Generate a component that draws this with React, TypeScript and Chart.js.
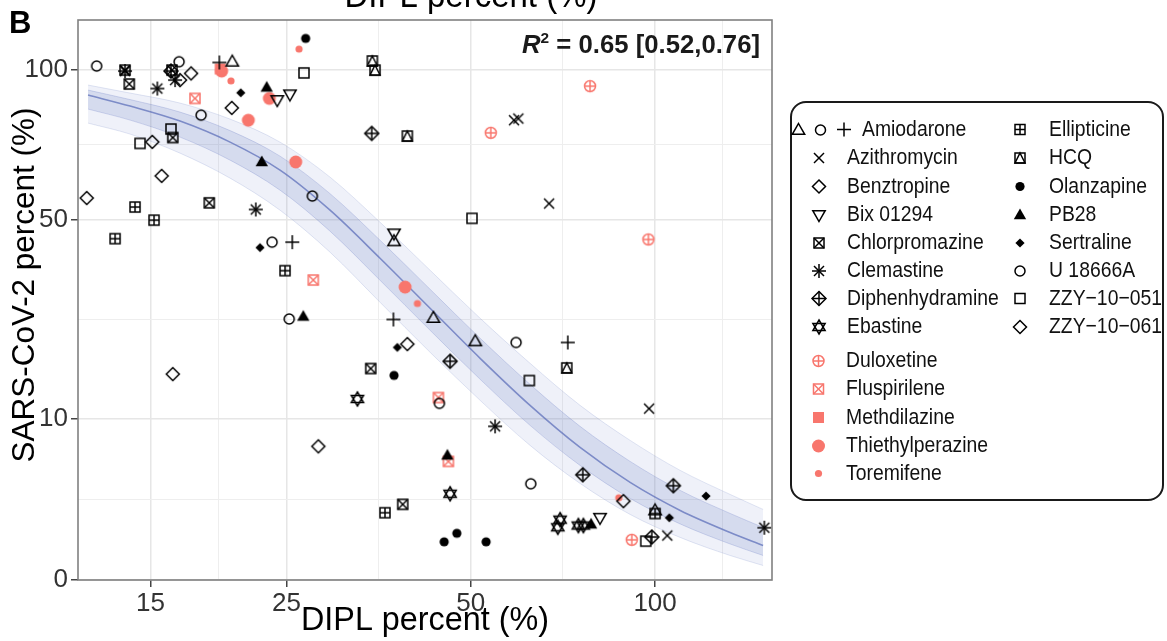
import React, { useEffect, useRef } from 'react';
import { Chart, registerables, LinearScale } from 'chart.js';

Chart.register(...registerables);

// ---- sqrt-transformed linear scale (ggplot scale_y_sqrt look) ----
class SqrtScale extends LinearScale {
  static id = 'sqrt';
  static defaults = {};
  getPixelForValue(value: any) {
    if (value === null || value === undefined || isNaN(value)) return NaN;
    const a = Math.sqrt(Math.max((this as any).min, 0));
    const b = Math.sqrt(Math.max((this as any).max, 0));
    return (this as any).getPixelForDecimal((Math.sqrt(Math.max(+value, 0)) - a) / (b - a));
  }
  getValueForPixel(pixel: number) {
    const a = Math.sqrt(Math.max((this as any).min, 0));
    const b = Math.sqrt(Math.max((this as any).max, 0));
    const s = a + (this as any).getDecimalForPixel(pixel) * (b - a);
    return s * s;
  }
}
Chart.register(SqrtScale as any);

// ---------------- DATA ----------------
const X_MIN = 11.42;
const X_MAX = 155.2;
const Y_MIN = 0;
const Y_MAX = 120.6;
const X_MAJOR = [15, 25, 50, 100];
const X_MINOR = [19.36, 35.36, 70.71, 129];
const Y_MAJOR = [0, 10, 50, 100];
const Y_MINOR = [2.5, 26.18, 72.86];

const AMIODARONE_TRIANGLE = [[20.4, 103.3], [37.47, 44.1], [43.45, 26.4], [50.86, 21.9], [100.0, 1.86]];
const AMIODARONE_CIRCLE = [[16.7, 103.3], [23.69, 43.9], [59.29, 21.7], [44.44, 12.0]];
const AMIODARONE_PLUS = [[19.43, 103.0], [25.56, 43.9], [37.38, 26.1], [72.01, 21.7]];
const AZITHROMYCIN = [[58.84, 81.3], [59.8, 81.9], [67.13, 54.5], [97.77, 11.3], [104.7, 0.76]];
const BENZTROPINE = [[17.47, 98.7], [20.36, 85.7], [15.1, 73.8], [15.64, 62.8], [39.4, 21.4], [88.77, 2.39]];
const BIX_01294 = [[24.16, 88.6], [25.34, 90.7], [37.47, 46.2], [81.3, 1.49]];
const CHLORPROMAZINE = [[13.85, 94.6], [16.31, 75.3], [18.71, 54.7], [34.33, 17.2], [38.72, 2.2], [13.63, 100.0], [16.26, 100.0]];
const CLEMASTINE = [[15.39, 92.9], [16.45, 96.1], [22.28, 52.8], [54.79, 9.08], [150.8, 1.05], [13.63, 99.6]];
const DIPHENHYDRAMINE = [[34.46, 76.7], [46.27, 18.4], [76.19, 4.26], [107.1, 3.42], [98.76, 0.71], [16.2, 99.6]];
const EBASTINE = [[32.65, 12.6], [46.27, 2.86], [69.96, 1.4], [69.36, 1.07], [74.93, 1.14], [76.36, 1.14]];
const ELLIPTICINE = [[14.15, 53.5], [15.2, 49.8], [13.13, 44.8], [24.87, 36.8], [36.22, 1.74], [100.0, 1.7]];
const HCQ = [[34.54, 103.6], [34.89, 100.0], [39.4, 75.8], [71.74, 17.3]];
const OLANZAPINE = [[26.88, 112.8], [37.47, 16.1], [45.24, 0.56], [47.45, 0.84], [52.97, 0.56]];
const PB28 = [[23.22, 93.3], [22.79, 67.2], [26.64, 26.7], [45.8, 5.97], [78.61, 1.19]];
const SERTRALINE = [[21.06, 91.3], [22.64, 42.5], [37.94, 20.8], [105.5, 1.49], [121.1, 2.71]];
const U_18666A = [[12.25, 101.6], [18.14, 83.1], [27.56, 56.7], [25.27, 26.2], [62.66, 3.56]];
const ZZY_10_051 = [[26.71, 98.9], [16.2, 78.2], [14.42, 73.3], [50.23, 50.3], [62.33, 15.3], [96.56, 0.58]];
const ZZY_10_061 = [[11.8, 56.1], [16.31, 16.3], [28.19, 6.87], [16.76, 96.1]];
const DULOXETINE = [[78.3, 93.8], [53.91, 76.9], [97.52, 44.6], [91.6, 0.62]];
const FLUSPIRILENE = [[17.73, 89.2], [27.66, 34.6], [44.28, 12.8], [45.97, 5.41]];
const METHDILAZINE = [[19.5, 100.4]];
const THIETHYLPERAZINE = [[19.6, 99.6], [23.45, 89.2], [21.67, 81.3], [25.89, 67.2], [39.06, 33.0]];
const TOREMIFENE = [[20.3, 95.8], [26.22, 108.4], [40.91, 29.4], [87.24, 2.6]];

// fitted dose-response curve and its bootstrap envelope
const CURVE_X = [11.86, 13.89, 16.76, 20.23, 24.41, 29.46, 35.55, 42.91, 51.8, 62.49, 75.42, 91.04, 109.9, 132.6, 150.1];
const CURVE_MID = [90.43, 86.37, 80.98, 73.73, 64.6, 52.59, 39.82, 28.4, 18.9, 11.73, 6.763, 3.662, 1.861, 0.869, 0.458];
const CURVE_UPPER = [94.2, 91.18, 87.47, 81.69, 73.73, 62.41, 49.23, 36.9, 26.34, 18.06, 11.73, 7.497, 4.619, 2.816, 1.915];
const CURVE_LOWER = [80.28, 76.46, 70.07, 62.1, 52.59, 41.32, 29.66, 19.94, 12.41, 6.969, 3.587, 1.653, 0.696, 0.231, 0.081];
const CURVE_UPPER_INNER = [92.3, 88.76, 84.19, 77.66, 69.09, 57.4, 44.4, 32.51, 22.47, 14.72, 9.077, 5.409, 3.086, 1.704, 1.062];
const CURVE_LOWER_INNER = [85.28, 81.34, 75.43, 67.79, 58.44, 46.79, 34.55, 23.98, 15.49, 9.195, 5.05, 2.559, 1.208, 0.499, 0.231];

const BLACK = '#000000';
const RED = '#F8766D';

const SERIES = [
  { label: 'Amiodarone', data: AMIODARONE_TRIANGLE, shape: 'triangle', color: BLACK },
  { label: 'Amiodarone', data: AMIODARONE_CIRCLE, shape: 'circle', color: BLACK },
  { label: 'Amiodarone', data: AMIODARONE_PLUS, shape: 'plus', color: BLACK },
  { label: 'Azithromycin', data: AZITHROMYCIN, shape: 'cross', color: BLACK },
  { label: 'Benztropine', data: BENZTROPINE, shape: 'diamond', color: BLACK },
  { label: 'Bix 01294', data: BIX_01294, shape: 'triangleDown', color: BLACK },
  { label: 'Chlorpromazine', data: CHLORPROMAZINE, shape: 'squareX', color: BLACK },
  { label: 'Clemastine', data: CLEMASTINE, shape: 'asterisk', color: BLACK },
  { label: 'Diphenhydramine', data: DIPHENHYDRAMINE, shape: 'diamondPlus', color: BLACK },
  { label: 'Ebastine', data: EBASTINE, shape: 'star6', color: BLACK },
  { label: 'Ellipticine', data: ELLIPTICINE, shape: 'squarePlus', color: BLACK },
  { label: 'HCQ', data: HCQ, shape: 'squareTriangle', color: BLACK },
  { label: 'Olanzapine', data: OLANZAPINE, shape: 'dotM', color: BLACK },
  { label: 'PB28', data: PB28, shape: 'triangleFill', color: BLACK },
  { label: 'Sertraline', data: SERTRALINE, shape: 'diamondFill', color: BLACK },
  { label: 'U 18666A', data: U_18666A, shape: 'circle', color: BLACK },
  { label: 'ZZY\u221210\u2212051', data: ZZY_10_051, shape: 'square', color: BLACK },
  { label: 'ZZY\u221210\u2212061', data: ZZY_10_061, shape: 'diamond', color: BLACK },
  { label: 'Duloxetine', data: DULOXETINE, shape: 'circlePlus', color: RED },
  { label: 'Fluspirilene', data: FLUSPIRILENE, shape: 'squareX', color: RED },
  { label: 'Methdilazine', data: METHDILAZINE, shape: 'squareFill', color: RED },
  { label: 'Thiethylperazine', data: THIETHYLPERAZINE, shape: 'dotL', color: RED },
  { label: 'Toremifene', data: TOREMIFENE, shape: 'dotS', color: RED },
];

const LEGEND_LEFT = [
  { label: 'Amiodarone', shapes: ['triangle', 'circle', 'plus'], color: BLACK },
  { label: 'Azithromycin', shapes: ['cross'], color: BLACK },
  { label: 'Benztropine', shapes: ['diamond'], color: BLACK },
  { label: 'Bix 01294', shapes: ['triangleDown'], color: BLACK },
  { label: 'Chlorpromazine', shapes: ['squareX'], color: BLACK },
  { label: 'Clemastine', shapes: ['asterisk'], color: BLACK },
  { label: 'Diphenhydramine', shapes: ['diamondPlus'], color: BLACK },
  { label: 'Ebastine', shapes: ['star6'], color: BLACK },
];
const LEGEND_RED = [
  { label: 'Duloxetine', shapes: ['circlePlus'], color: RED },
  { label: 'Fluspirilene', shapes: ['squareX'], color: RED },
  { label: 'Methdilazine', shapes: ['squareFill'], color: RED },
  { label: 'Thiethylperazine', shapes: ['dotL'], color: RED },
  { label: 'Toremifene', shapes: ['dotS'], color: RED },
];
const LEGEND_RIGHT = [
  { label: 'Ellipticine', shapes: ['squarePlus'], color: BLACK },
  { label: 'HCQ', shapes: ['squareTriangle'], color: BLACK },
  { label: 'Olanzapine', shapes: ['dotM'], color: BLACK },
  { label: 'PB28', shapes: ['triangleFill'], color: BLACK },
  { label: 'Sertraline', shapes: ['diamondFill'], color: BLACK },
  { label: 'U 18666A', shapes: ['circle'], color: BLACK },
  { label: 'ZZY\u221210\u2212051', shapes: ['square'], color: BLACK },
  { label: 'ZZY\u221210\u2212061', shapes: ['diamond'], color: BLACK },
];

const FONT = "'Liberation Sans', Arial, Helvetica, sans-serif";

// ---------------- drawing helpers ----------------
function drawShape(g: CanvasRenderingContext2D, kind: string, color: string, cx: number, cy: number) {
  g.save();
  g.translate(cx, cy);
  g.strokeStyle = color;
  g.fillStyle = color;
  g.lineWidth = 1.5;
  g.lineJoin = 'miter';
  const seg = (x1: number, y1: number, x2: number, y2: number) => {
    g.beginPath(); g.moveTo(x1, y1); g.lineTo(x2, y2); g.stroke();
  };
  const poly = (pts: number[][], fill = false) => {
    g.beginPath();
    pts.forEach(([x, y], i) => (i ? g.lineTo(x, y) : g.moveTo(x, y)));
    g.closePath();
    if (fill) g.fill(); else g.stroke();
  };
  const circ = (r: number, fill = false) => {
    g.beginPath(); g.arc(0, 0, r, 0, Math.PI * 2);
    if (fill) g.fill(); else g.stroke();
  };
  switch (kind) {
    case 'circle': circ(5); break;
    case 'triangle': poly([[0, -6.5], [6.2, 4.3], [-6.2, 4.3]]); break;
    case 'triangleDown': poly([[0, 6.5], [6.2, -4.3], [-6.2, -4.3]]); break;
    case 'plus': seg(-7, 0, 7, 0); seg(0, -7, 0, 7); break;
    case 'cross': seg(-5, -5, 5, 5); seg(-5, 5, 5, -5); break;
    case 'diamond': poly([[0, -6.5], [6.5, 0], [0, 6.5], [-6.5, 0]]); break;
    case 'square': g.strokeRect(-5, -5, 10, 10); break;
    case 'squareX': g.strokeRect(-5, -5, 10, 10); seg(-5, -5, 5, 5); seg(-5, 5, 5, -5); break;
    case 'squarePlus': g.strokeRect(-5, -5, 10, 10); seg(-5, 0, 5, 0); seg(0, -5, 0, 5); break;
    case 'squareTriangle': g.strokeRect(-5, -5, 10, 10); poly([[0, -5], [5, 5], [-5, 5]]); break;
    case 'asterisk': seg(-7, 0, 7, 0); seg(0, -7, 0, 7); seg(-5, -5, 5, 5); seg(-5, 5, 5, -5); break;
    case 'diamondPlus': poly([[0, -7], [7, 0], [0, 7], [-7, 0]]); seg(-7, 0, 7, 0); seg(0, -7, 0, 7); break;
    case 'star6': poly([[0, -7], [6.1, 3.5], [-6.1, 3.5]]); poly([[0, 7], [6.1, -3.5], [-6.1, -3.5]]); break;
    case 'circlePlus': circ(5.5); seg(-5.5, 0, 5.5, 0); seg(0, -5.5, 0, 5.5); break;
    case 'dotL': circ(6.5, true); break;
    case 'dotM': circ(4.6, true); break;
    case 'dotS': circ(3.6, true); break;
    case 'triangleFill': poly([[0, -6.5], [6.2, 4.3], [-6.2, 4.3]], true); break;
    case 'diamondFill': poly([[0, -4.6], [4.6, 0], [0, 4.6], [-4.6, 0]], true); break;
    case 'squareFill': g.fillRect(-5.5, -5.5, 11, 11); break;
  }
  g.restore();
}

function drawText(
  ctx: CanvasRenderingContext2D, text: string, x: number, y: number, font: string,
  align: 'left' | 'center' | 'right', opts: { width?: number; sx?: number; color?: string; baseline?: CanvasTextBaseline } = {}
) {
  ctx.save();
  ctx.font = font;
  ctx.fillStyle = opts.color || '#000';
  ctx.textBaseline = opts.baseline || 'alphabetic';
  ctx.textAlign = 'left';
  const w = ctx.measureText(text).width;
  const sx = opts.width ? opts.width / w : (opts.sx ?? 1);
  const dw = w * sx;
  const left = align === 'center' ? x - dw / 2 : align === 'right' ? x - dw : x;
  ctx.translate(left, y);
  ctx.scale(sx, 1);
  ctx.fillText(text, 0, 0);
  ctx.restore();
}

const overlayPlugin = {
  id: 'overlay',
  afterDraw(chart: any) {
    const ctx: CanvasRenderingContext2D = chart.ctx;
    const a = chart.chartArea;
    ctx.save();
    // panel border
    ctx.strokeStyle = '#808080';
    ctx.lineWidth = 1.6;
    ctx.strokeRect(a.left, a.top, a.right - a.left, a.bottom - a.top);

    // panel letter
    drawText(ctx, 'B', 9, 33, `bold 31px ${FONT}`, 'left');
    // clipped title from the panel above
    drawText(ctx, 'DIPL percent (%)', 471, 7, `35px ${FONT}`, 'center', { width: 253 });
    // axis titles
    drawText(ctx, 'DIPL percent (%)', (a.left + a.right) / 2, 630, `34px ${FONT}`, 'center', { width: 248 });
    ctx.save();
    ctx.translate(34, 285);
    ctx.rotate(-Math.PI / 2);
    drawText(ctx, 'SARS-CoV-2 percent (%)', 0, 0, `31px ${FONT}`, 'center', { width: 355 });
    ctx.restore();

    // R^2 annotation
    {
      const fBig = `bold 25px ${FONT}`;
      const fIt = `italic bold 25px ${FONT}`;
      const fSup = `bold 15px ${FONT}`;
      const rest = ' = 0.65 [0.52,0.76]';
      ctx.font = fIt; const wR = ctx.measureText('R').width;
      ctx.font = fSup; const wS = ctx.measureText('2').width;
      ctx.font = fBig; const wT = ctx.measureText(rest).width;
      const total = wR + wS + wT;
      const right = 760, base = 53;
      const sx = 238 / total;
      ctx.save();
      ctx.translate(right - total * sx, base);
      ctx.scale(sx, 1);
      ctx.fillStyle = '#1a1a1a';
      ctx.textBaseline = 'alphabetic';
      ctx.textAlign = 'left';
      ctx.font = fIt; ctx.fillText('R', 0, 0);
      ctx.font = fSup; ctx.fillText('2', wR, -10);
      ctx.font = fBig; ctx.fillText(rest, wR + wS, 0);
      ctx.restore();
    }

    // legend box
    const bx = 791, by = 102, bw = 1163 - 791, bh = 500 - 102, r = 15;
    ctx.beginPath();
    ctx.moveTo(bx + r, by);
    ctx.lineTo(bx + bw - r, by);
    ctx.arcTo(bx + bw, by, bx + bw, by + r, r);
    ctx.lineTo(bx + bw, by + bh - r);
    ctx.arcTo(bx + bw, by + bh, bx + bw - r, by + bh, r);
    ctx.lineTo(bx + r, by + bh);
    ctx.arcTo(bx, by + bh, bx, by + bh - r, r);
    ctx.lineTo(bx, by + r);
    ctx.arcTo(bx, by, bx + r, by, r);
    ctx.closePath();
    ctx.fillStyle = '#ffffff';
    ctx.fill();
    ctx.strokeStyle = '#1a1a1a';
    ctx.lineWidth = 2;
    ctx.stroke();

    const lf = `22px ${FONT}`;
    const rowsBlack = [129.5, 158, 186.5, 215, 243, 271, 298.5, 327];
    const rowsRed = [361, 389, 417.5, 446, 473.5];
    LEGEND_LEFT.forEach((e, i) => {
      const y = rowsBlack[i];
      if (e.shapes.length === 3) {
        drawShape(ctx, e.shapes[0], e.color, 798.5, y + 0.5);
        drawShape(ctx, e.shapes[1], e.color, 820.5, y + 0.5);
        drawShape(ctx, e.shapes[2], e.color, 844, y);
        drawText(ctx, e.label, 862, y, lf, 'left', { sx: 0.88, baseline: 'middle', color: '#111' });
      } else {
        drawShape(ctx, e.shapes[0], e.color, 819, y);
        drawText(ctx, e.label, 847, y, lf, 'left', { sx: 0.88, baseline: 'middle', color: '#111' });
      }
    });
    LEGEND_RED.forEach((e, i) => {
      const y = rowsRed[i];
      drawShape(ctx, e.shapes[0], e.color, 818.5, y);
      drawText(ctx, e.label, 846, y, lf, 'left', { sx: 0.88, baseline: 'middle', color: '#111' });
    });
    LEGEND_RIGHT.forEach((e, i) => {
      const y = rowsBlack[i];
      drawShape(ctx, e.shapes[0], e.color, 1020, y);
      drawText(ctx, e.label, 1049, y, lf, 'left', { sx: 0.88, baseline: 'middle', color: '#111' });
    });
    ctx.restore();
  },
};

const BAND = 'rgba(112, 128, 196, ';

export default function App() {
  const ref = useRef<HTMLCanvasElement>(null);

  useEffect(() => {
    const canvas = ref.current;
    if (!canvas) return;
    Chart.defaults.font.family = FONT;

    const cache = new Map<string, HTMLCanvasElement>();
    const img = (kind: string, color: string) => {
      const key = kind + color;
      if (!cache.has(key)) {
        const c = document.createElement('canvas');
        c.width = 22; c.height = 22;
        const g = c.getContext('2d')!;
        drawShape(g, kind, color, 11, 11);
        cache.set(key, c);
      }
      return cache.get(key)!;
    };

    const curve = (ys: number[]) => CURVE_X.map((x, i) => ({ x, y: ys[i] }));
    const lineBase = {
      type: 'line' as const,
      pointRadius: 0,
      cubicInterpolationMode: 'monotone' as const,
      order: 10,
    };

    const curveSets: any[] = [
      { ...lineBase, label: 'band-upper', data: curve(CURVE_UPPER), borderColor: BAND + '0.2)', borderWidth: 1, fill: '+1', backgroundColor: BAND + '0.11)' },
      { ...lineBase, label: 'band-lower', data: curve(CURVE_LOWER), borderColor: BAND + '0.2)', borderWidth: 1, fill: false },
      { ...lineBase, label: 'band-upper-inner', data: curve(CURVE_UPPER_INNER), borderColor: BAND + '0.28)', borderWidth: 1, fill: '+1', backgroundColor: BAND + '0.2)' },
      { ...lineBase, label: 'band-lower-inner', data: curve(CURVE_LOWER_INNER), borderColor: BAND + '0.28)', borderWidth: 1, fill: false },
      { ...lineBase, label: 'fit', data: curve(CURVE_MID), borderColor: 'rgba(88, 106, 182, 0.75)', borderWidth: 1.6, fill: false },
    ];

    const pointSets: any[] = SERIES.map((s) => ({
      type: 'scatter' as const,
      label: s.label,
      data: s.data.map(([x, y]) => ({ x, y })),
      pointStyle: img(s.shape, s.color),
      pointRadius: 6,
      order: 1,
    }));

    const isMajorX = (v: number) => X_MAJOR.includes(v);
    const isMajorY = (v: number) => Y_MAJOR.includes(v);

    const chart = new Chart(canvas, {
      type: 'scatter',
      data: { datasets: [...curveSets, ...pointSets] },
      options: {
        responsive: false,
        maintainAspectRatio: false,
        devicePixelRatio: 1,
        animation: false,
        events: [],
        layout: { padding: { left: 0, top: 20, right: 395, bottom: 0 } },
        plugins: { legend: { display: false }, tooltip: { enabled: false } },
        scales: {
          x: {
            type: 'logarithmic',
            min: X_MIN,
            max: X_MAX,
            bounds: 'data',
            afterBuildTicks: (s: any) => {
              s.ticks = [...X_MAJOR, ...X_MINOR].sort((p, q) => p - q).map((value) => ({ value }));
            },
            afterFit: (s: any) => { s.height = 61; },
            border: { display: false },
            grid: {
              color: (c: any) => (isMajorX(c.tick?.value) ? '#e6e6e6' : '#eeeeee'),
              lineWidth: (c: any) => (isMajorX(c.tick?.value) ? 1.5 : 1),
              tickColor: (c: any) => (isMajorX(c.tick?.value) ? '#444' : 'rgba(0,0,0,0)'),
              tickWidth: 1.5,
              tickLength: 7,
            },
            ticks: {
              autoSkip: false,
              maxRotation: 0,
              minRotation: 0,
              padding: 1,
              color: '#333',
              font: { size: 26, family: FONT },
              callback: (v: any) => (isMajorX(v) ? String(v) : ''),
            },
          },
          y: {
            type: 'sqrt' as any,
            min: Y_MIN,
            max: Y_MAX,
            bounds: 'data',
            afterBuildTicks: (s: any) => {
              s.ticks = [...Y_MAJOR, ...Y_MINOR].sort((p, q) => p - q).map((value) => ({ value }));
            },
            afterFit: (s: any) => { s.width = 78; },
            border: { display: false },
            grid: {
              color: (c: any) => (isMajorY(c.tick?.value) ? '#e6e6e6' : '#eeeeee'),
              lineWidth: (c: any) => (isMajorY(c.tick?.value) ? 1.5 : 1),
              tickColor: (c: any) => (isMajorY(c.tick?.value) ? '#444' : 'rgba(0,0,0,0)'),
              tickWidth: 1.5,
              tickLength: 7,
            },
            ticks: {
              autoSkip: false,
              padding: 3,
              color: '#333',
              font: { size: 26, family: FONT },
              callback: (v: any) => (isMajorY(v) ? String(v) : ''),
            },
          } as any,
        },
      },
      plugins: [overlayPlugin],
    } as any);

    return () => chart.destroy();
  }, []);

  return (
    <div style={{ position: 'absolute', left: 0, top: 0, width: 1167, height: 641, background: '#ffffff', overflow: 'hidden' }}>
      <canvas ref={ref} width={1167} height={641} style={{ display: 'block', width: 1167, height: 641 }} />
    </div>
  );
}
